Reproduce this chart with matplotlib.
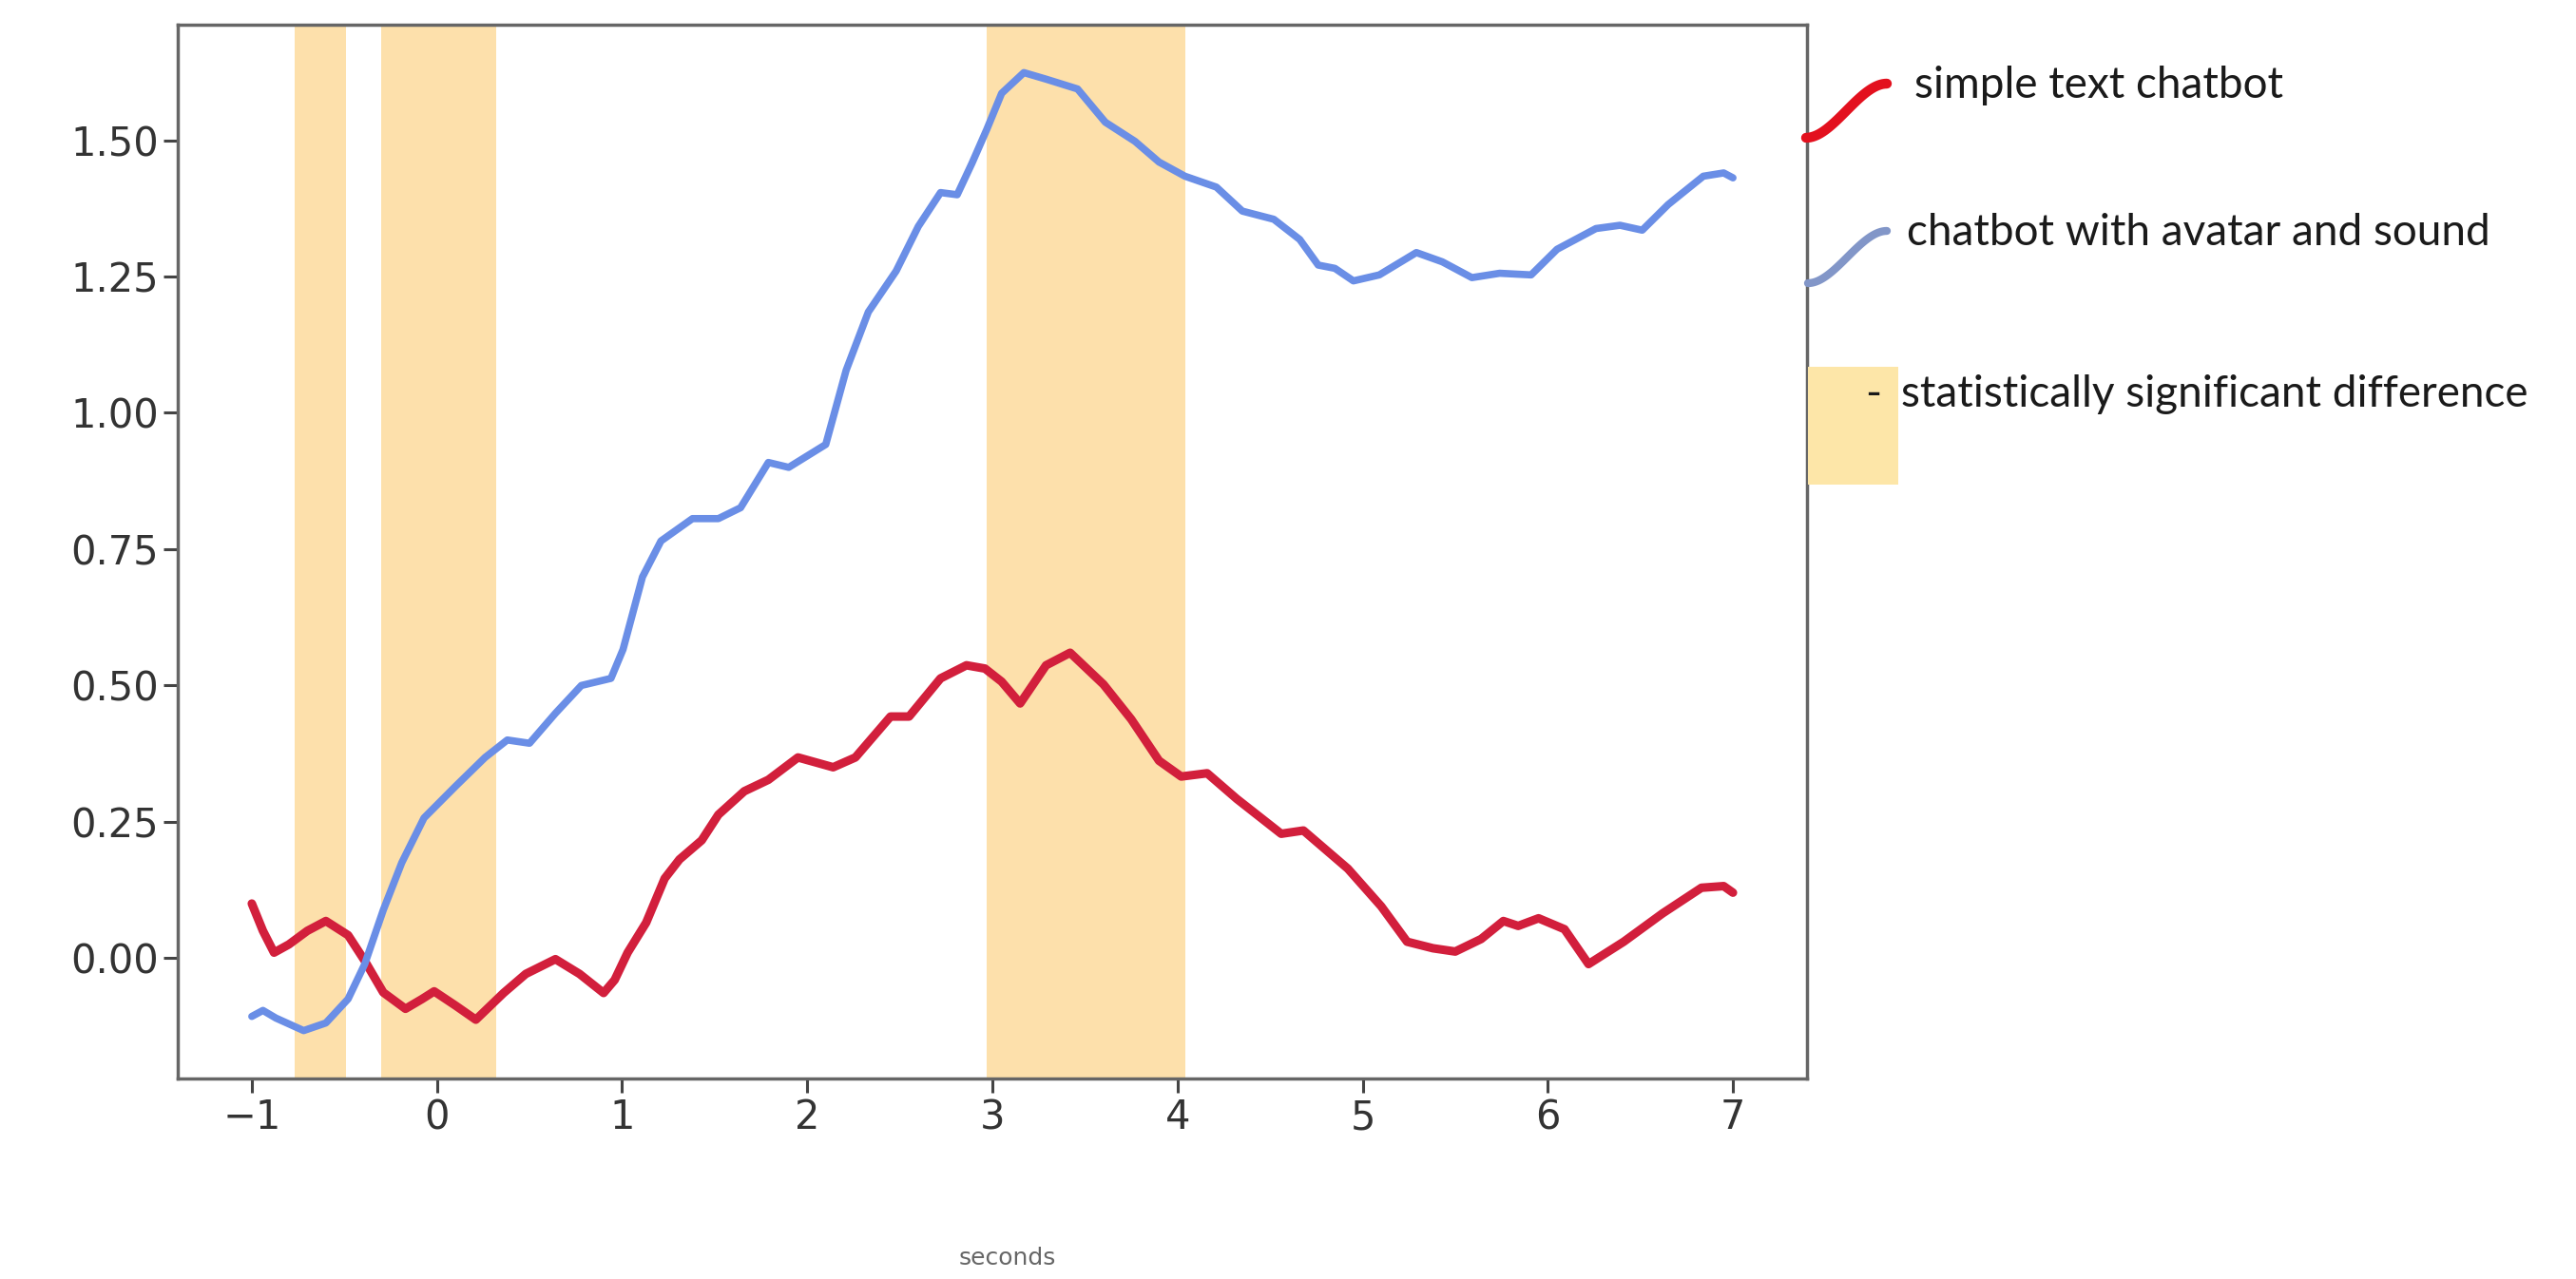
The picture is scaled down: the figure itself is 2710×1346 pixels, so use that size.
import numpy as np
import matplotlib
matplotlib.use("Agg")
import matplotlib.pyplot as plt
from matplotlib.lines import Line2D
from matplotlib.patches import Rectangle

# values
t_simple = [-1.00, -0.94, -0.88, -0.80, -0.70, -0.60, -0.48, -0.39, -0.29, -0.17,
            -0.08, -0.015, 0.10, 0.21, 0.36, 0.48, 0.64, 0.77, 0.90, 0.96,
            1.03, 1.13, 1.23, 1.31, 1.43, 1.52, 1.66, 1.79, 1.95, 2.14,
            2.26, 2.45, 2.55, 2.72, 2.86, 2.96, 3.05, 3.15, 3.29, 3.42,
            3.60, 3.75, 3.90, 4.02, 4.16, 4.32, 4.56, 4.68, 4.92, 5.10,
            5.24, 5.38, 5.50, 5.64, 5.76, 5.84, 5.95, 6.09, 6.22, 6.41,
            6.62, 6.83, 6.95, 7.00]
simple_chatbot = [0.10, 0.05, 0.01, 0.025, 0.05, 0.068, 0.042, -0.005, -0.063, -0.093,
                  -0.075, -0.061, -0.087, -0.113, -0.064, -0.029, -0.002, -0.029, -0.064, -0.04,
                  0.01, 0.065, 0.146, 0.181, 0.216, 0.263, 0.306, 0.327, 0.368, 0.35,
                  0.368, 0.443, 0.443, 0.513, 0.537, 0.531, 0.507, 0.467, 0.537, 0.56,
                  0.502, 0.438, 0.362, 0.333, 0.339, 0.292, 0.228, 0.234, 0.164, 0.095,
                  0.03, 0.018, 0.012, 0.035, 0.068, 0.059, 0.073, 0.053, -0.011, 0.03,
                  0.082, 0.129, 0.132, 0.12]

t_avatar = [-1.00, -0.94, -0.87, -0.72, -0.60, -0.48, -0.39, -0.29, -0.19, -0.07,
            0.10, 0.26, 0.38, 0.50, 0.64, 0.78, 0.94, 1.005, 1.11, 1.21,
            1.38, 1.52, 1.64, 1.79, 1.90, 2.10, 2.21, 2.33, 2.48, 2.60,
            2.72, 2.81, 2.89, 2.97, 3.05, 3.17, 3.29, 3.46, 3.61, 3.77,
            3.90, 4.04, 4.21, 4.35, 4.52, 4.66, 4.76, 4.85, 4.95, 5.09,
            5.29, 5.43, 5.59, 5.74, 5.91, 6.05, 6.26, 6.39, 6.51, 6.65,
            6.84, 6.95, 7.00]
avatar_chatbot = [-0.107, -0.096, -0.11, -0.133, -0.119, -0.075, -0.011, 0.088, 0.175, 0.257,
                  0.315, 0.368, 0.40, 0.394, 0.449, 0.50, 0.513, 0.566, 0.699, 0.765,
                  0.806, 0.806, 0.826, 0.909, 0.90, 0.942, 1.078, 1.185, 1.26, 1.342,
                  1.404, 1.40, 1.458, 1.52, 1.586, 1.624, 1.612, 1.594, 1.533, 1.498,
                  1.46, 1.434, 1.414, 1.37, 1.355, 1.318, 1.271, 1.265, 1.242, 1.253,
                  1.294, 1.277, 1.248, 1.256, 1.253, 1.30, 1.338, 1.344, 1.335, 1.382,
                  1.434, 1.44, 1.431]

sig_start = [-0.77, -0.30, 2.97]
sig_end = [-0.49, 0.32, 4.04]

labels = ["simple text chatbot", "chatbot with avatar and sound",
          "statistically significant difference"]

W, H = 2710, 1346
fig = plt.figure(figsize=(W / 100, H / 100), dpi=100)
ax = fig.add_axes([187 / W, 1 - 1135 / H, 1714 / W, 1109 / H])

span_color = "#fde0ab"
for a, b in zip(sig_start, sig_end):
    ax.axvspan(a, b, color=span_color, lw=0, zorder=0)

ax.plot(t_simple, simple_chatbot, color="#d21f3c", lw=6.5, solid_joinstyle="round",
        solid_capstyle="round", zorder=3)
ax.plot(t_avatar, avatar_chatbot, color="#6a8ee6", lw=5.5, solid_joinstyle="round",
        solid_capstyle="round", zorder=3)

ax.set_xticks(range(-1, 8))
ax.tick_params(labelsize=30, labelcolor="#333333", length=11, width=2.2, color="#444444")
for s in ax.spines.values():
    s.set_color("#666666")
    s.set_linewidth(2.5)

ax.set_xlabel("seconds", fontsize=18, color="#666666")
ax.xaxis.set_label_coords(0.509, -0.16)
ax.xaxis.label.set_va("top")

# hand-made legend to the right of the axes
def wave(x0, y0, x1, y1, color, lw):
    s = np.linspace(0, 1, 40)
    k = s * s * (3 - 2 * s)
    xs = x0 + (x1 - x0) * s
    ys = y0 + (y1 - y0) * k
    fig.add_artist(Line2D(xs / W, 1 - ys / H, color=color, lw=lw,
                          solid_capstyle="round", transform=fig.transFigure))

wave(1900, 145, 1985, 88, "#e3101e", 7.5)
wave(1902, 298, 1985, 243, "#8296c8", 6)
fig.add_artist(Rectangle((1902 / W, 1 - 510 / H), 95 / W, 124 / H,
                         color="#fde6a8", lw=0, transform=fig.transFigure))

lf = dict(fontsize=33, color="#1a1a1a", family="Lato", va="center", ha="left")
fig.text(2014 / W, 1 - 90 / H, labels[0], **lf)
fig.text(2006 / W, 1 - 245 / H, labels[1], **lf)
fig.text(1962 / W, 1 - 415 / H, "-", **lf)
fig.text(2000 / W, 1 - 415 / H, labels[2], **lf)

fig.savefig("out.png", dpi=100)
